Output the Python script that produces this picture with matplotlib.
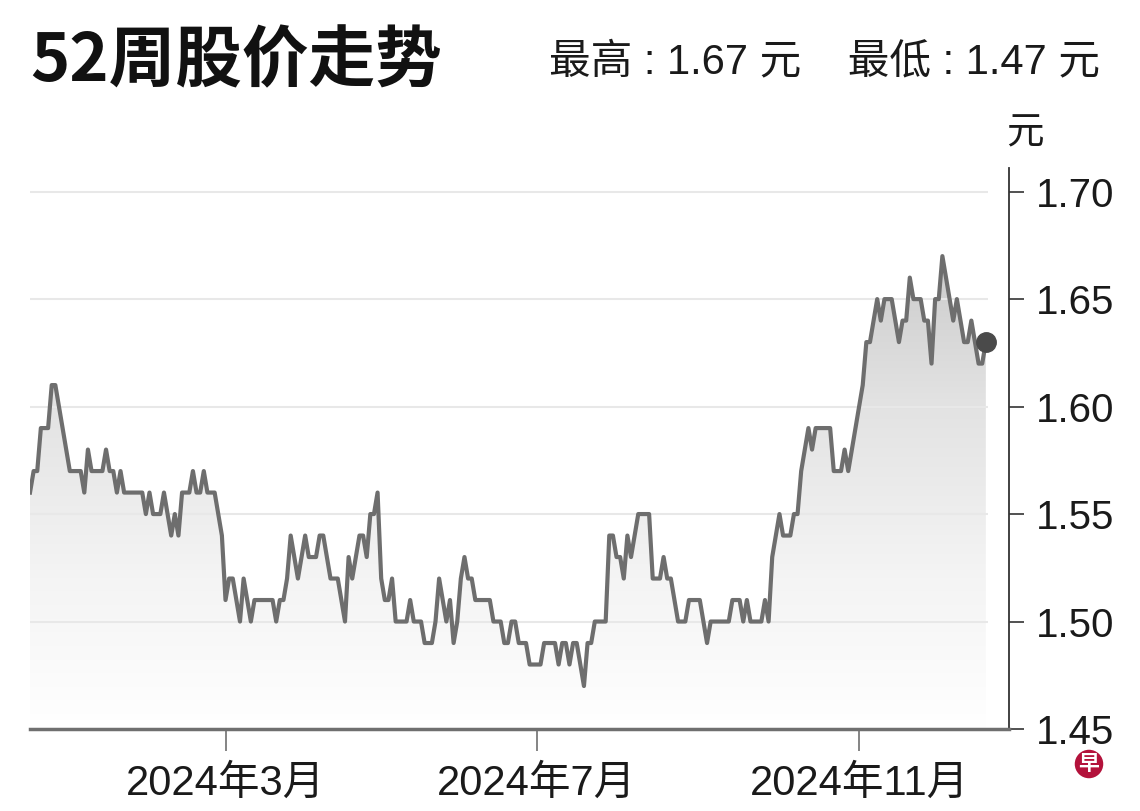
import numpy as np
import pandas as pd
import matplotlib
matplotlib.use('Agg')
import matplotlib.pyplot as plt
from matplotlib.colors import LinearSegmentedColormap

plt.rcParams['font.family'] = ['Liberation Sans', 'Noto Sans CJK SC', 'DejaVu Sans']

# 每个交易日收盘价
prices = [
    1.56, 1.57, 1.57, 1.59, 1.59, 1.59, 1.61, 1.61, 1.60, 1.59,
    1.58, 1.57, 1.57, 1.57, 1.57, 1.56, 1.58, 1.57, 1.57, 1.57,
    1.57, 1.58, 1.57, 1.57, 1.56, 1.57, 1.56, 1.56, 1.56, 1.56,
    1.56, 1.56, 1.55, 1.56, 1.55, 1.55, 1.55, 1.56, 1.55, 1.54,
    1.55, 1.54, 1.56, 1.56, 1.56, 1.57, 1.56, 1.56, 1.57, 1.56,
    1.56, 1.56, 1.55, 1.54, 1.51, 1.52, 1.52, 1.51, 1.50, 1.52,
    1.51, 1.50, 1.51, 1.51, 1.51, 1.51, 1.51, 1.51, 1.50, 1.51,
    1.51, 1.52, 1.54, 1.53, 1.52, 1.53, 1.54, 1.53, 1.53, 1.53,
    1.54, 1.54, 1.53, 1.52, 1.52, 1.52, 1.51, 1.50, 1.53, 1.52,
    1.53, 1.54, 1.54, 1.53, 1.55, 1.55, 1.56, 1.52, 1.51, 1.51,
    1.52, 1.50, 1.50, 1.50, 1.50, 1.51, 1.50, 1.50, 1.50, 1.49,
    1.49, 1.49, 1.50, 1.52, 1.51, 1.50, 1.51, 1.49, 1.50, 1.52,
    1.53, 1.52, 1.52, 1.51, 1.51, 1.51, 1.51, 1.51, 1.50, 1.50,
    1.50, 1.49, 1.49, 1.50, 1.50, 1.49, 1.49, 1.49, 1.48, 1.48,
    1.48, 1.48, 1.49, 1.49, 1.49, 1.49, 1.48, 1.49, 1.49, 1.48,
    1.49, 1.49, 1.48, 1.47, 1.49, 1.49, 1.50, 1.50, 1.50, 1.50,
    1.54, 1.54, 1.53, 1.53, 1.52, 1.54, 1.53, 1.54, 1.55, 1.55,
    1.55, 1.55, 1.52, 1.52, 1.52, 1.53, 1.52, 1.52, 1.51, 1.50,
    1.50, 1.50, 1.51, 1.51, 1.51, 1.51, 1.50, 1.49, 1.50, 1.50,
    1.50, 1.50, 1.50, 1.50, 1.51, 1.51, 1.51, 1.50, 1.51, 1.50,
    1.50, 1.50, 1.50, 1.51, 1.50, 1.53, 1.54, 1.55, 1.54, 1.54,
    1.54, 1.55, 1.55, 1.57, 1.58, 1.59, 1.58, 1.59, 1.59, 1.59,
    1.59, 1.59, 1.57, 1.57, 1.57, 1.58, 1.57, 1.58, 1.59, 1.60,
    1.61, 1.63, 1.63, 1.64, 1.65, 1.64, 1.65, 1.65, 1.65, 1.64,
    1.63, 1.64, 1.64, 1.66, 1.65, 1.65, 1.65, 1.64, 1.64, 1.62,
    1.65, 1.65, 1.67, 1.66, 1.65, 1.64, 1.65, 1.64, 1.63, 1.63,
    1.64, 1.63, 1.62, 1.62, 1.63,
]
start_date = '2023-12-18'
tick_months = [3, 7, 11]
y_ticks = [1.45, 1.50, 1.55, 1.60, 1.65, 1.70]

dates = pd.bdate_range(start_date, periods=len(prices))
xs = np.arange(len(prices))
tick_pos = [int(np.argmax((dates.year == 2024) & (dates.month == m))) for m in tick_months]
tick_labels = [f'{dates[p].year}年{dates[p].month}月' for p in tick_pos]

fig = plt.figure(figsize=(11.4, 8.11), dpi=100)
ax = fig.add_axes([30 / 1140, 1 - 729 / 811, 979 / 1140, 561 / 811])

# 渐变填充
cmap = LinearSegmentedColormap.from_list('fade', ['#ffffff', '#f3f3f3', '#e2e2e2', '#c8c8c8'])
grad = np.linspace(0, 1, 256).reshape(-1, 1)
im = ax.imshow(grad, extent=[0, xs[-1], 1.45, 1.68], origin='lower',
               aspect='auto', cmap=cmap, zorder=1)
poly = ax.fill_between(xs, prices, 1.45, facecolor='none', edgecolor='none')
im.set_clip_path(poly.get_paths()[0], transform=ax.transData)

# 网格线
ax.hlines(y_ticks[1:], 0, xs[-1] + 0.5, color='#e8e8e8', lw=1.5, zorder=1.5)

ax.plot(xs, prices, color='#6e6e6e', lw=3.0, zorder=3)
ax.plot(xs[-1], prices[-1], 'o', color='#4a4a4a', ms=14, zorder=4)

ax.set_xlim(0, 270.4)
ax.set_ylim(1.45, 1.711)

for s in ['top', 'left']:
    ax.spines[s].set_visible(False)
ax.spines['right'].set_color('#333333')
ax.spines['right'].set_linewidth(1.3)
ax.spines['bottom'].set_color('#6f6f6f')
ax.spines['bottom'].set_linewidth(2.5)

ax.yaxis.tick_right()
ax.set_yticks(y_ticks)
ax.set_yticklabels([f'{v:.2f}' for v in y_ticks])
ax.tick_params(axis='y', direction='out', length=11, width=1.2, color='#333333',
               pad=8, labelsize=29, labelcolor='#1a1a1a')
ax.set_xticks(tick_pos)
ax.set_xticklabels(tick_labels)
ax.tick_params(axis='x', direction='out', length=16, width=1.2, color='#6f6f6f',
               pad=9, labelsize=30, labelcolor='#1a1a1a')

fig.text(1025 / 1140, 1 - 133 / 811, '元', ha='center', va='center', fontsize=27, color='#1a1a1a')

fig.text(30 / 1140, 1 - 62 / 811, '52周股价走势', ha='left', va='center', fontsize=48,
         fontweight='black', family=['Noto Sans CJK SC'], color='#111111')
fig.text(1100 / 1140, 1 - 62 / 811,
         f'最高 : {max(prices):.2f} 元    最低 : {min(prices):.2f} 元',
         ha='right', va='center', fontsize=30, color='#1a1a1a')

# 角标
fig.text(1089 / 1140, 1 - 764 / 811, '早', ha='center', va='center', fontsize=15,
         fontweight='bold', color='white', family=['Noto Sans CJK SC'],
         bbox=dict(boxstyle='circle,pad=0.18', fc='#b3123b', ec='none'))

fig.savefig('out.png', dpi=100)
